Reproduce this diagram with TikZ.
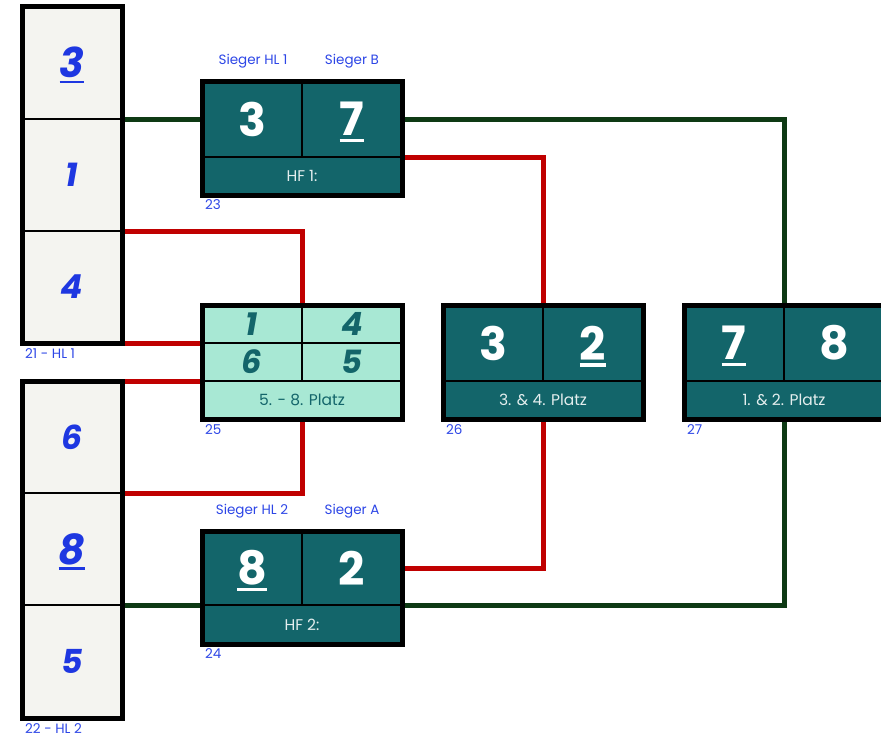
\documentclass[tikz,border=0pt]{standalone}
\usepackage{fontspec}
\setmainfont{Poppins}
\usetikzlibrary{backgrounds}
\definecolor{boxteal}{RGB}{19,101,106}
\definecolor{mint}{RGB}{168,232,212}
\definecolor{colfill}{RGB}{244,244,240}
\definecolor{numblue}{RGB}{30,55,225}
\definecolor{lblblue}{RGB}{45,70,230}
\definecolor{lred}{RGB}{192,0,0}
\definecolor{lgreen}{RGB}{14,58,20}
\definecolor{hftext}{RGB}{228,238,238}
\newcommand\colnum{\fontsize{33}{33}\selectfont\bfseries\itshape}
\newcommand\colnumbig{\fontsize{41}{41}\selectfont\bfseries\itshape}
\newcommand\tealnum{\fontsize{46}{46}\selectfont\bfseries}
\newcommand\mintnum{\fontsize{32}{32}\selectfont\bfseries\itshape}
\newcommand\barfont{\fontsize{15.5}{15.5}\selectfont}
\newcommand\lblfont{\fontsize{13.5}{13.5}\selectfont}
\newcommand\myul[1]{\setbox0\hbox{#1}\rlap{\raisebox{0pt}[0pt][0pt]{\vrule width\wd0 height -0.07em depth 0.14em}}\box0}
\tikzset{
  cellbase/.style={draw=black, line width=2.5pt, inner sep=0pt, outer sep=0pt, minimum width=100pt},
  colcell/.style={cellbase, fill=colfill, minimum height=112pt, text=numblue, font=\colnum},
  tealcell/.style={cellbase, fill=boxteal, minimum height=76pt, text=white, font=\tealnum},
  tealbar/.style={cellbase, fill=boxteal, minimum width=200pt, minimum height=38pt, text=hftext, font=\barfont},
  mintcell/.style={cellbase, fill=mint, minimum height=38pt, text=boxteal, font=\mintnum},
  mintbar/.style={cellbase, fill=mint, minimum width=200pt, minimum height=38pt, text=boxteal, font=\barfont},
  boxframe/.style={draw=black, line width=5pt, inner sep=0pt, outer sep=0pt, minimum width=200pt, minimum height=114pt},
  lbl/.style={text=lblblue, font=\lblfont, inner sep=0pt},
  redline/.style={draw=lred, line width=5pt},
  greenline/.style={draw=lgreen, line width=5pt},
}
\begin{document}
\begin{tikzpicture}[x=1pt,y=-1pt]
\useasboundingbox (0,0) rectangle (881,737);
% column HL1
\node[colcell, font=\colnumbig, minimum height=113pt] (c11) at (72,62.5) {\myul{3}};
\node[colcell] (c12) at (72,175) {1};
\node[colcell] (c13) at (72,287) {4};
\node[boxframe, minimum width=100pt, minimum height=337pt] (hl1) at (72,174.5) {};
\node[lbl, anchor=west] (l21) at (25,354) {21 - HL 1};
% column HL2
\node[colcell] (c21) at (72,437) {6};
\node[colcell, font=\colnumbig] (c22) at (72,549) {\myul{8}};
\node[colcell, minimum height=113pt] (c23) at (72,661.5) {5};
\node[boxframe, minimum width=100pt, minimum height=337pt] (hl2) at (72,549.5) {};
\node[lbl, anchor=west] (l22) at (25,729) {22 - HL 2};
% HF1
\node[tealcell] (h1a) at (252,119) {3};
\node[tealcell] (h1b) at (352,119) {\myul{7}};
\node[tealbar] (h1c) at (302,176) {HF 1:};
\node[boxframe] (hf1) at (302,138) {};
\node[lbl] (s1) at (253,61) {Sieger HL 1};
\node[lbl] (s2) at (352,61) {Sieger B};
\node[lbl, anchor=west] (l23) at (205,205) {23};
% Box 25
\node[mintcell] (p1) at (252,324) {1};
\node[mintcell] (p2) at (352,324) {4};
\node[mintcell] (p3) at (252,362) {6};
\node[mintcell] (p4) at (352,362) {5};
\node[mintbar] (p5) at (302,400) {5. - 8. Platz};
\node[boxframe] (p25) at (302,362) {};
\node[lbl, anchor=west] (l25) at (205,430) {25};
% Box 26
\node[tealcell] (k1) at (493,343) {3};
\node[tealcell] (k2) at (593,343) {\myul{2}};
\node[tealbar] (k3) at (543,400) {3. \& 4. Platz};
\node[boxframe] (b26) at (543,362) {};
\node[lbl, anchor=west] (l26) at (446,430) {26};
% Box 27
\node[tealcell] (f1) at (734,343) {\myul{7}};
\node[tealcell] (f2) at (834,343) {8};
\node[tealbar] (f3) at (784,400) {1. \& 2. Platz};
\node[boxframe] (b27) at (784,362) {};
\node[lbl, anchor=west] (l27) at (687,430) {27};
% HF2
\node[tealcell, minimum height=74pt] (g1) at (252,568) {\myul{8}};
\node[tealcell, minimum height=74pt] (g2) at (352,568) {2};
\node[tealbar, minimum height=39pt] (g3) at (302,624.5) {HF 2:};
\node[boxframe, minimum height=113pt] (hf2) at (302,587.5) {};
\node[lbl] (s3) at (252,511) {Sieger HL 2};
\node[lbl] (s4) at (352,511) {Sieger A};
\node[lbl, anchor=west] (l24) at (205,654) {24};
% connectors
\begin{scope}[on background layer]
\draw[greenline] (c11.south east) -- (h1a.west);
\draw[redline] (c12.south east) -| (p25.north);
\draw[redline] (c13.south east) -- (p3.north west);
\draw[redline] (c21.north east) -- (p5.north west);
\draw[redline] (c21.south east) -| (p25.south);
\draw[greenline] (c22.south east) -- (g3.north west);
\draw[greenline] (h1b.east) -| (b27.north);
\draw[redline] (h1b.south east) -| (b26.north);
\draw[redline] (g2.east) -| (b26.south);
\draw[greenline] (g2.south east) -| (b27.south);
\end{scope}
\end{tikzpicture}
\end{document}
